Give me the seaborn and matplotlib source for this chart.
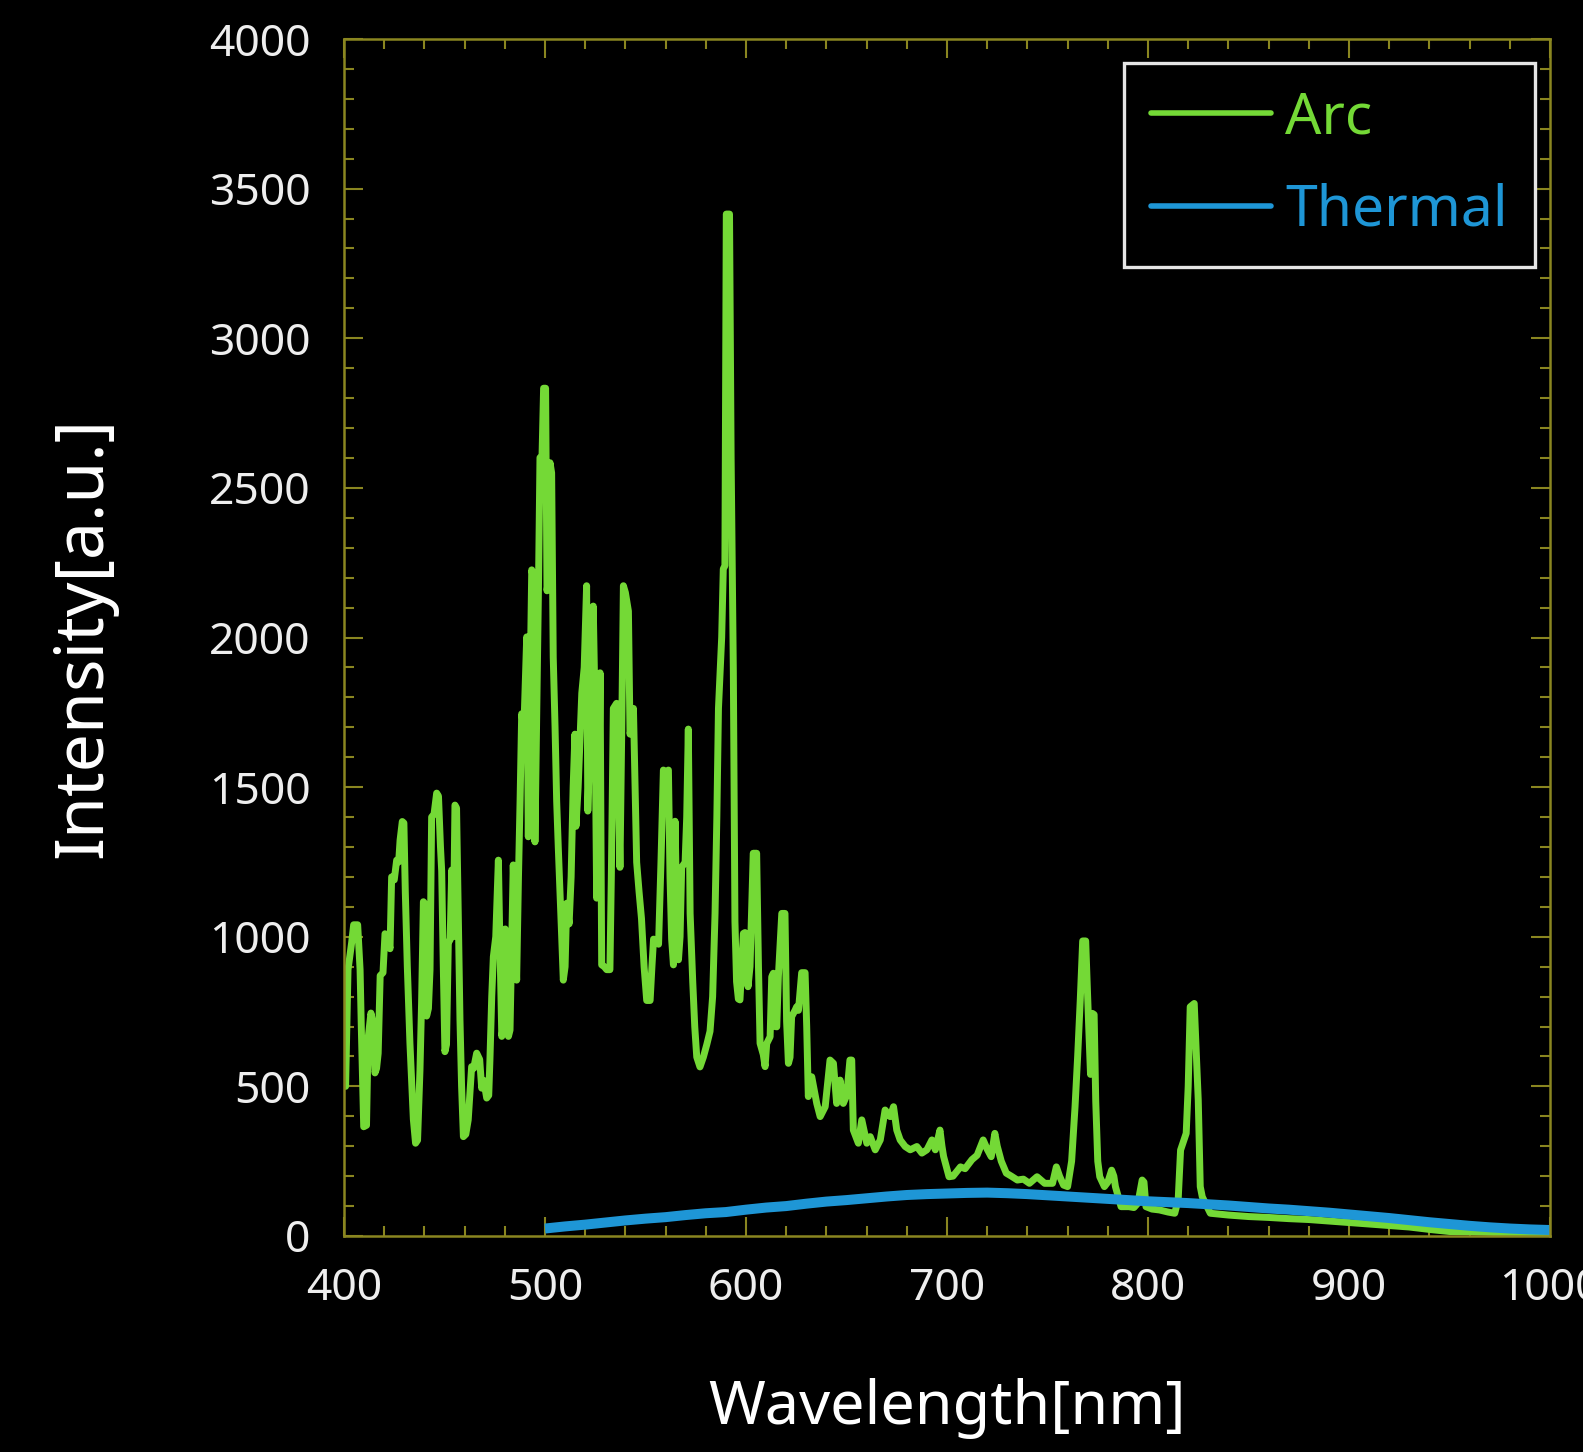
import numpy as np
import pandas as pd
import matplotlib
matplotlib.use("Agg")
import matplotlib.pyplot as plt
from matplotlib.ticker import MultipleLocator
import seaborn as sns

# ---------------- data ----------------
arc_wavelength = [
    400, 400.8, 402, 403.8, 404.8, 406.8, 408, 408.6, 409.8, 411.2, 412, 413.4, 414.2, 415.4, 416.2, 417,
    418, 419.4, 420.4, 421.8, 422.9, 423.7, 425, 426.2, 427.2, 427.9, 429, 429.8, 430.5, 431.5, 432.8,
    434.5, 435.6, 436.6, 437.8, 438.6, 439.5, 440.3, 441.1, 442, 442.8, 443.6, 444.8, 446.1, 447, 448,
    448.6, 449.4, 450.2, 451, 451.9, 452.8, 453.6, 454.4, 455.2, 456, 456.8, 457.7, 458.5, 459.4, 460.6,
    461.8, 463.5, 464.5, 466, 467.5, 468.5, 469.5, 471, 472, 472.6, 473.5, 474.3, 475.5, 476.8, 477.5,
    478.5, 479.2, 480.2, 481, 481.8, 482.6, 483.5, 484.2, 485, 485.9, 486.8, 487.6, 488.4, 489.5, 490.9,
    491.7, 492.5, 493.4, 494.2, 495, 495.8, 496.7, 497.5, 498.5, 499.3, 500.3, 501, 501.8, 502.5, 503.3,
    504.1, 505, 505.8, 506.6, 507.5, 508.3, 509.1, 510, 510.8, 512, 513, 514, 514.9, 515.4, 516.5, 518.3,
    519.5, 520.7, 521.3, 522.5, 524, 524.8, 525.7, 526.5, 527.4, 528.2, 529.5, 530.7, 532.3, 533, 534,
    535.6, 536.5, 537.3, 538.2, 539, 540, 541.5, 542.3, 543, 544, 544.8, 545.6, 546.8, 548, 549.3, 550.6,
    552.3, 553.2, 554, 555.2, 556.5, 557.7, 558.9, 560.2, 561.4, 562.2, 563, 563.9, 564.7, 565.5, 566.4,
    567.2, 568, 569.7, 570.5, 571.3, 572.2, 573.5, 574.5, 575.5, 577.1, 578.8, 580.5, 582.1, 583.4, 584.6,
    585.5, 586.3, 587.9, 588.7, 589.5, 590.2, 591.8, 592.6, 593.7, 594.5, 595.3, 596.2, 597, 598.7, 599.5,
    601, 602, 603.6, 605.3, 606.2, 607, 608.6, 609.5, 610.3, 612, 612.8, 613.6, 614.4, 615.3, 616.1, 617.8,
    619.4, 620.2, 621.1, 621.9, 622.7, 624.4, 625.2, 626.1, 627.7, 629.4, 630.2, 631, 632.7, 635.2, 636.9,
    639.4, 641.8, 643.5, 645.1, 646.8, 648.4, 650.1, 651.7, 652.6, 653.4, 655.9, 657.6, 660.1, 661.8,
    664.3, 666.8, 669.2, 671.7, 673.4, 675, 676.7, 679.2, 681.7, 685, 687.5, 690, 692.5, 694.2, 696.5,
    697.5, 698.3, 701, 703, 706.7, 709, 712.4, 715, 718, 720, 722, 723.8, 725, 727, 729.5, 732, 735, 738,
    741, 744.8, 747, 748.6, 752.5, 754.4, 756, 758, 760, 762, 763.7, 765, 766.3, 767.5, 769, 770.5, 771.4,
    772.3, 773.2, 774, 775, 776, 778.3, 780, 781.9, 783, 783.8, 786.6, 790.5, 793, 795, 797.1, 798, 799,
    802, 805.7, 810, 813.3, 815, 816.2, 819, 820, 821, 823, 825, 826, 827, 831, 840, 850, 860, 870, 880,
    890, 900, 910, 920, 930, 940, 950, 960, 970, 980, 990, 1000,
]
arc_intensity = [
    530, 500, 890, 980, 1040, 1040, 890, 700, 365, 370, 660, 745, 720, 545, 560, 610,
    870, 880, 1010, 1000, 960, 1200, 1190, 1256, 1250, 1323, 1385, 1380, 1150, 900, 645,
    390, 310, 320, 555, 780, 1117, 1110, 735, 760, 890, 1400, 1410, 1480, 1470, 1300,
    1220, 900, 616, 640, 980, 990, 1223, 1000, 1440, 1430, 1100, 722, 500, 332, 340,
    388, 566, 560, 611, 590, 494, 520, 461, 470, 588, 800, 933, 1000, 1256, 1000,
    667, 700, 1026, 900, 667, 688, 1000, 1240, 1050, 855, 1200, 1454, 1745, 1700, 2002,
    1334, 1800, 2226, 2200, 1317, 1700, 2139, 2601, 2600, 2833, 2833, 2156, 2200, 2584, 2550,
    1934, 1700, 1454, 1300, 1146, 1000, 855, 900, 1112, 1043, 1200, 1500, 1677, 1369, 1500, 1814,
    1900, 2173, 1420, 1700, 2105, 1800, 1129, 1300, 1882, 906, 900, 890, 890, 1200, 1763,
    1780, 1500, 1232, 1700, 2173, 2150, 2088, 1677, 1700, 1763, 1500, 1249, 1150, 1061, 900, 787,
    787, 900, 992, 990, 975, 1250, 1557, 1550, 1557, 1200, 992, 906, 1386, 1100, 923,
    1000, 1232, 1249, 1400, 1694, 1078, 850, 700, 598, 565, 598, 640, 684, 800, 1078,
    1400, 1763, 2000, 2229, 2240, 3415, 3415, 2600, 1886, 1051, 850, 792, 789, 1011, 1014,
    833, 900, 1279, 1279, 900, 644, 606, 566, 643, 666, 866, 878, 700, 699, 866, 1078,
    1078, 717, 577, 597, 733, 754, 766, 754, 880, 880, 700, 466, 532, 443, 399,
    432, 588, 577, 443, 521, 443, 470, 588, 588, 354, 310, 388, 310, 332,
    288, 321, 421, 399, 432, 354, 321, 299, 288, 299, 277, 288, 321, 288, 354,
    300, 266, 198, 200, 231, 225, 255, 270, 321, 290, 265, 343, 300, 250, 210, 200, 187, 190,
    176, 198, 185, 176, 176, 231, 200, 170, 165, 250, 432, 600, 789, 986, 986, 700, 540,
    744, 740, 450, 250, 198, 165, 180, 220, 200, 165, 98, 98, 95, 110, 187, 180, 98,
    90, 87, 80, 76, 120, 287, 343, 500, 766, 777, 454, 165, 131, 76, 70, 65, 62, 58, 55,
    50, 45, 40, 35, 30, 22, 15, 14, 12, 10, 9, 8,
]
thermal_wavelength = [500, 510, 520, 530, 540, 550, 560, 570, 580, 590, 600, 610, 620, 630, 640, 650,
                      660, 670, 680, 690, 700, 710, 720, 730, 740, 750, 760, 770, 780, 790, 800, 810,
                      820, 830, 840, 850, 860, 870, 880, 890, 900, 910, 920, 930, 940, 950, 960, 970,
                      980, 990, 1000]
thermal_intensity = [25, 32, 38, 45, 52, 58, 63, 70, 76, 80, 88, 95, 100, 108, 115, 120,
                     126, 132, 137, 140, 142, 144, 145, 143, 140, 136, 132, 128, 124, 120, 116, 113,
                     110, 106, 102, 97, 92, 88, 83, 78, 72, 66, 60, 53, 46, 40, 34, 29,
                     25, 22, 20]

series_names = ["Arc", "Thermal"]
series_colors = ["#74d936", "#1e96d6"]
x_ticks = [400, 500, 600, 700, 800, 900, 1000]
y_ticks = [0, 500, 1000, 1500, 2000, 2500, 3000, 3500, 4000]

df = pd.concat([
    pd.DataFrame({"Wavelength": arc_wavelength, "Intensity": arc_intensity, "Series": "Arc"}),
    pd.DataFrame({"Wavelength": thermal_wavelength, "Intensity": thermal_intensity, "Series": "Thermal"}),
], ignore_index=True)

# ---------------- style ----------------
sns.set_style("dark")
plt.rcParams["font.family"] = ["Noto Sans", "DejaVu Sans"]
frame_col = "#8a8620"
text_col = "#eeeeee"

fig = plt.figure(figsize=(15.83, 14.52), dpi=100, facecolor="black")
ax = fig.add_axes([344 / 1583, 1 - 1236 / 1452, 1206 / 1583, 1197 / 1452])
ax.set_facecolor("black")

sns.lineplot(data=df, x="Wavelength", y="Intensity", hue="Series", hue_order=series_names,
             palette=dict(zip(series_names, series_colors)), estimator=None, sort=False,
             linewidth=5.0, ax=ax, legend=False)
# thicker thermal (noisy band in original)
ax.lines[1].set_linewidth(7.2)
ax.lines[1].set_solid_capstyle("butt")

ax.set_xlim(400, 1000)
ax.set_ylim(0, 4000)
ax.set_xticks(x_ticks)
ax.set_yticks(y_ticks)
ax.xaxis.set_minor_locator(MultipleLocator(20))
ax.yaxis.set_minor_locator(MultipleLocator(100))
ax.grid(False)

for sp in ax.spines.values():
    sp.set_visible(True)
    sp.set_color(frame_col)
    sp.set_linewidth(1.8)

ax.tick_params(which="both", direction="in", top=True, right=True, bottom=True, left=True,
               color=frame_col, width=1.5)
ax.tick_params(which="major", length=14)
ax.tick_params(which="minor", length=7)
ax.tick_params(axis="y", which="major", labelsize=32, labelcolor=text_col, pad=24)
ax.tick_params(axis="x", which="major", labelsize=32, labelcolor=text_col, pad=22)

ax.set_xlabel("Wavelength[nm]", fontsize=44, color="white")
ax.set_ylabel("Intensity[a.u.]", fontsize=49, color="white")
ax.xaxis.set_label_coords(0.5, -0.1437)
ax.xaxis.label.set_va("center")
ax.yaxis.set_label_coords(-0.2164, 0.5)
ax.yaxis.label.set_va("center")

handles = [plt.Line2D([], [], color=c, linewidth=4.0) for c in series_colors]
leg = ax.legend(handles, series_names, loc="upper right", bbox_to_anchor=(0.9876, 0.980),
                borderaxespad=0, fontsize=41, frameon=True, fancybox=False,
                facecolor="black", edgecolor="#e6e6e6", framealpha=1,
                handlelength=2.1, handletextpad=0.25, borderpad=0.48, labelspacing=0.62)
leg.get_frame().set_linewidth(2.4)
for t, c in zip(leg.get_texts(), series_colors):
    t.set_color(c)

fig.savefig("out.png", dpi=100, facecolor="black")
